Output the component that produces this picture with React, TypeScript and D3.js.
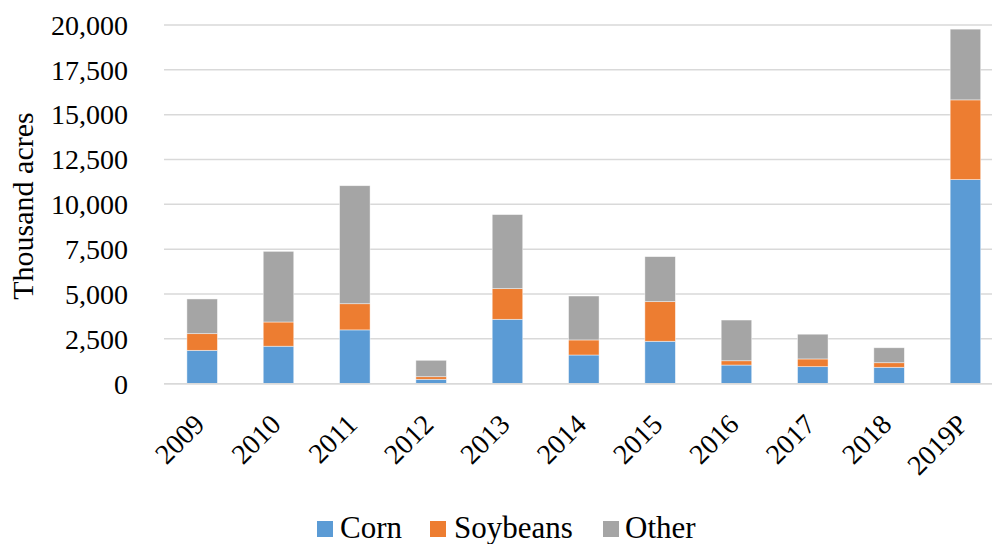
import React from "react";
import * as d3 from "d3";

// values (thousand acres)
const years = ["2009", "2010", "2011", "2012", "2013", "2014", "2015", "2016", "2017", "2018", "2019P"];
const corn = [1860, 2090, 3000, 245, 3590, 1600, 2365, 1040, 950, 915, 11380];
const soybeans = [930, 1350, 1460, 145, 1710, 840, 2210, 240, 430, 255, 4445];
const other = [1935, 3940, 6580, 915, 4130, 2450, 2510, 2270, 1380, 835, 3945];
const seriesNames = ["Corn", "Soybeans", "Other"];
const colors = ["#5B9BD5", "#ED7D31", "#A5A5A5"];
const yTicks = [0, 2500, 5000, 7500, 10000, 12500, 15000, 17500, 20000];

const font = "'Liberation Serif', 'Times New Roman', serif";

function App() {
  const width = 992;
  const height = 544;

  const rows = years.map((y, i) => ({ year: y, Corn: corn[i], Soybeans: soybeans[i], Other: other[i] }));
  const stacked = d3.stack<any>().keys(seriesNames)(rows);

  const x = d3.scaleBand().domain(years).range([164, 1003.6]).paddingInner(0.6).paddingOuter(0.3);
  const y = d3.scaleLinear().domain([0, 20000]).range([383.7, 25]);
  const fmt = d3.format(",");

  const legendItems = [
    { name: "Corn", sx: 317, tx: 340 },
    { name: "Soybeans", sx: 430, tx: 454 },
    { name: "Other", sx: 603, tx: 625 },
  ];

  return (
    <svg width={width} height={height} style={{ position: "absolute", left: 0, top: 0 }}>
      <rect width={width} height={height} fill="#fff" />
      {yTicks.map((t) => (
        <g key={t}>
          <line x1={164} x2={992} y1={y(t)} y2={y(t)} stroke="#d9d9d9" strokeWidth={1.5} />
          <text x={128} y={y(t)} dy="0.35em" textAnchor="end" fontFamily={font} fontSize={28} fill="#000">
            {fmt(t)}
          </text>
        </g>
      ))}
      {stacked.map((s, si) => (
        <g key={s.key} fill={colors[si]}>
          {s.map((d, i) => (
            <rect
              key={i}
              x={x(years[i])}
              width={x.bandwidth()}
              y={y(d[1])}
              height={y(d[0]) - y(d[1])}
              stroke="#fff"
              strokeOpacity={0.6}
              strokeWidth={0.75}
            />
          ))}
        </g>
      ))}
      <line x1={164} x2={992} y1={y(0)} y2={y(0)} stroke="#d9d9d9" strokeWidth={1.5} />
      {years.map((yr) => (
        <text
          key={yr}
          transform={`translate(${(x(yr) as number) + x.bandwidth() / 2 + 4},426) rotate(-45)`}
          textAnchor="end"
          fontFamily={font}
          fontSize={28}
          fill="#000"
        >
          {yr}
        </text>
      ))}
      <text
        transform="translate(33,206) rotate(-90)"
        textAnchor="middle"
        fontFamily={font}
        fontSize={30}
        fill="#000"
      >
        Thousand acres
      </text>
      {legendItems.map((l, i) => (
        <g key={l.name}>
          <rect x={l.sx} y={521} width={16} height={16} fill={colors[i]} />
          <text x={l.tx} y={538} fontFamily={font} fontSize={31} fill="#000">
            {l.name}
          </text>
        </g>
      ))}
    </svg>
  );
}

export default App;
